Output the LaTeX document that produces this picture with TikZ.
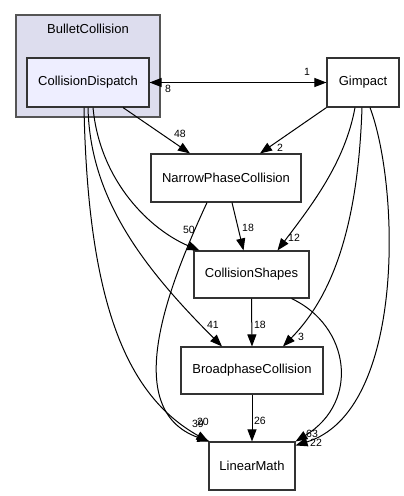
\documentclass[tikz,border=0pt]{standalone}
\usepackage{fontspec}
\setmainfont{Liberation Sans}
\usetikzlibrary{arrows.meta,calc}
\definecolor{clusterfill}{HTML}{DDDDEE}
\definecolor{clusterdraw}{HTML}{555555}
\definecolor{innerfill}{HTML}{EEEEFF}
\definecolor{boxdraw}{HTML}{333333}
\tikzset{
  dirbox/.style={draw=boxdraw, line width=1.1pt, fill=white, inner sep=0pt, font=\fontsize{13}{15}\selectfont},
  dep/.style={draw=black, line width=1pt, -{Triangle[length=12pt,width=9pt]}},
  twodep/.style={draw=black, line width=1pt, {Triangle[length=12pt,width=9pt]}-{Triangle[length=12pt,width=9pt]}},
  lbl/.style={inner sep=0pt, font=\fontsize{10.5}{12}\selectfont}
}
\begin{document}
\begin{tikzpicture}[x=1pt,y=-1pt]
\useasboundingbox (0,0) rectangle (404,496);
\fill[white] (0,0) rectangle (404,496);
% cluster
\node[draw=clusterdraw, line width=1.1pt, fill=clusterfill, minimum width=144pt, minimum height=102pt, inner sep=0pt] (cluster) at (88,66) {};
\node[font=\fontsize{13}{15}\selectfont, inner sep=0pt] (clusterlbl) at (88,29) {BulletCollision};
% nodes
\node[dirbox, fill=innerfill, minimum width=122pt, minimum height=49pt] (cd) at (88,82.5) {CollisionDispatch};
\node[dirbox, minimum width=72pt, minimum height=49pt] (gim) at (363,82.5) {Gimpact};
\node[dirbox, minimum width=150pt, minimum height=48pt] (npc) at (226,178) {NarrowPhaseCollision};
\node[dirbox, minimum width=115pt, minimum height=47pt] (cs) at (251.5,274.5) {CollisionShapes};
\node[dirbox, minimum width=142pt, minimum height=47pt] (bc) at (252,370.5) {BroadphaseCollision};
\node[dirbox, minimum width=86pt, minimum height=48pt] (lm) at (252,466) {LinearMath};
% edges
\draw[twodep] (cd.east) -- (gim.west);
\draw[dep] ($(cd.south)+(35,0)$) -- ($(npc.north)+(-36,0)$);
\draw[dep] (gim.south west) -- ($(npc.north)+(34,0)$);
\draw[dep] ($(npc.south)+(6,0)$) -- ($(cs.north)+(-8,0)$);
\draw[dep] ($(cd.south)+(5,0)$) .. controls ($(cd.south)+(12,75)$) and ($(cs.north)+(-100,-20)$) .. ($(cs.north)+(-52,0)$);
\draw[dep] ($(gim.south)+(-8,0)$) .. controls ($(gim.south)+(-18,55)$) and ($(cs.north)+(60,-45)$) .. ($(cs.north)+(26,0)$);
\draw[dep] (cs.south) -- (bc.north);
\draw[dep] ($(cd.south)+(0,0)$) .. controls ($(cd.south)+(2,90)$) and ($(bc.north)+(-110,-80)$) .. ($(bc.north)+(-30,0)$);
\draw[dep] ($(gim.south)+(-1,0)$) .. controls ($(gim.south)+(-5,120)$) and ($(bc.north)+(80,-50)$) .. ($(bc.north)+(31,0)$);
\draw[dep] (bc.south) -- (lm.north);
\draw[dep] ($(cd.south)+(-4,0)$) .. controls ($(cd.south)+(0,200)$) and ($(lm.north west)+(-80,-45)$) .. (lm.north west);
\draw[dep] ($(npc.south)+(-19,0)$) .. controls ($(npc.south)+(-56,80)$) and ($(lm.north west)+(-90,-32)$) .. ($(lm.north west)+(1,0)$);
\draw[dep] ($(cs.south)+(40,0)$) .. controls ($(cs.south)+(98,27)$) and ($(lm.north east)+(65,-40)$) .. (lm.north east);
\draw[dep] ($(gim.south)+(7,0)$) .. controls ($(gim.south)+(37,80)$) and ($(lm.north east)+(110,-30)$) .. ($(lm.north east)+(0,4)$);
% labels
\node[lbl] (l1) at (307,72) {1};
\node[lbl] (l8) at (168,89) {8};
\node[lbl] (l48) at (180,134) {48};
\node[lbl] (l2) at (280,148) {2};
\node[lbl] (l50) at (189,230) {50};
\node[lbl] (l18a) at (248,228) {18};
\node[lbl] (l12) at (294,238) {12};
\node[lbl] (l41) at (213,325) {41};
\node[lbl] (l18b) at (260,325) {18};
\node[lbl] (l3) at (301,337) {3};
\node[lbl] (l26) at (260,421) {26};
\node[lbl] (l39) at (198,424) {39};
\node[lbl] (l20) at (203,422) {20};
\node[lbl] (l63) at (312,434) {63};
\node[lbl] (l22) at (316,443) {22};
\end{tikzpicture}
\end{document}
